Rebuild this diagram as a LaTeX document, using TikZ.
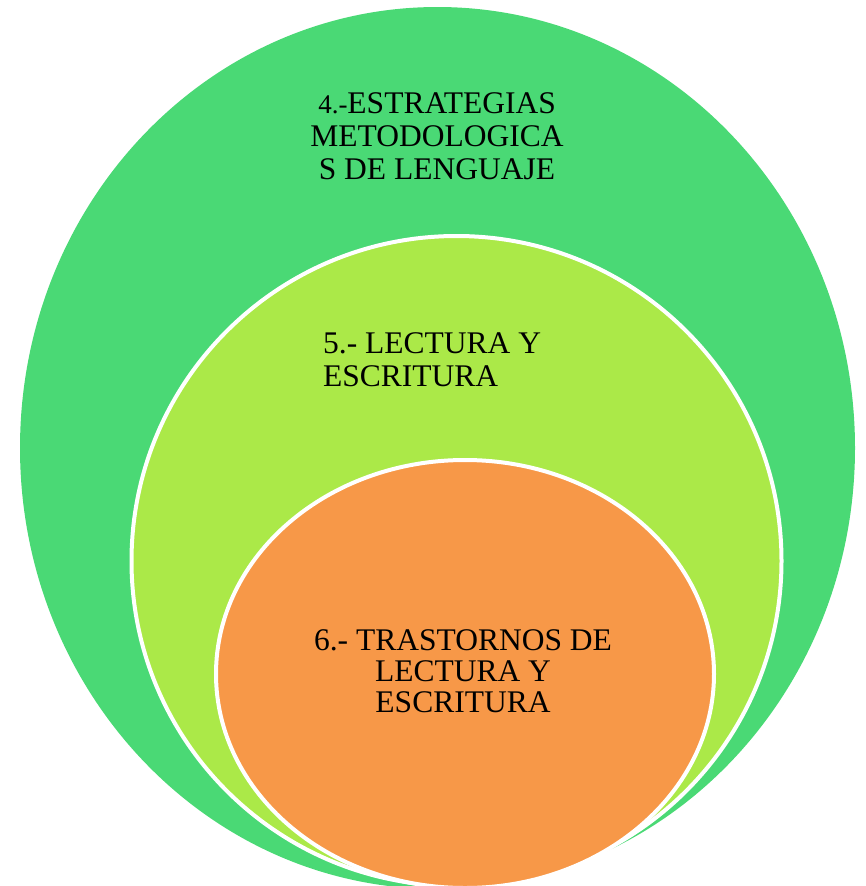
\documentclass[tikz,border=0pt]{standalone}
\usepackage{fontspec}
\setmainfont{Liberation Serif}
\definecolor{outerg}{RGB}{74,217,117}
\definecolor{midg}{RGB}{171,233,72}
\definecolor{orng}{RGB}{247,152,72}
\begin{document}
\begin{tikzpicture}[x=1pt,y=-1pt,
  ring/.style={draw=white, line width=4pt},
  lbl/.style={font=\fontsize{31.5}{33}\selectfont, inner sep=0pt, text=black}]
\useasboundingbox (0,0) rectangle (865,886);
\fill[outerg] (437.5,448) ellipse [x radius=417.5, y radius=441];
\path[ring, fill=midg] (456.5,561) ellipse [x radius=325, y radius=325];
\path[ring, fill=orng] (465,674) ellipse [x radius=249, y radius=214];
\node[lbl, align=center, anchor=north] (t4) at (437,92)
  {{\fontsize{27}{33}\selectfont 4.-}ESTRATEGIAS\\METODOLOGICA\\S DE LENGUAJE};
\node[lbl, align=left, anchor=north west] (t5) at (323,332)
  {5.- LECTURA Y\\ESCRITURA};
\node[lbl, align=center, anchor=north, font=\fontsize{31.5}{31}\selectfont] (t6) at (463,629)
  {6.- TRASTORNOS DE\\LECTURA Y\\ESCRITURA};
\end{tikzpicture}
\end{document}
